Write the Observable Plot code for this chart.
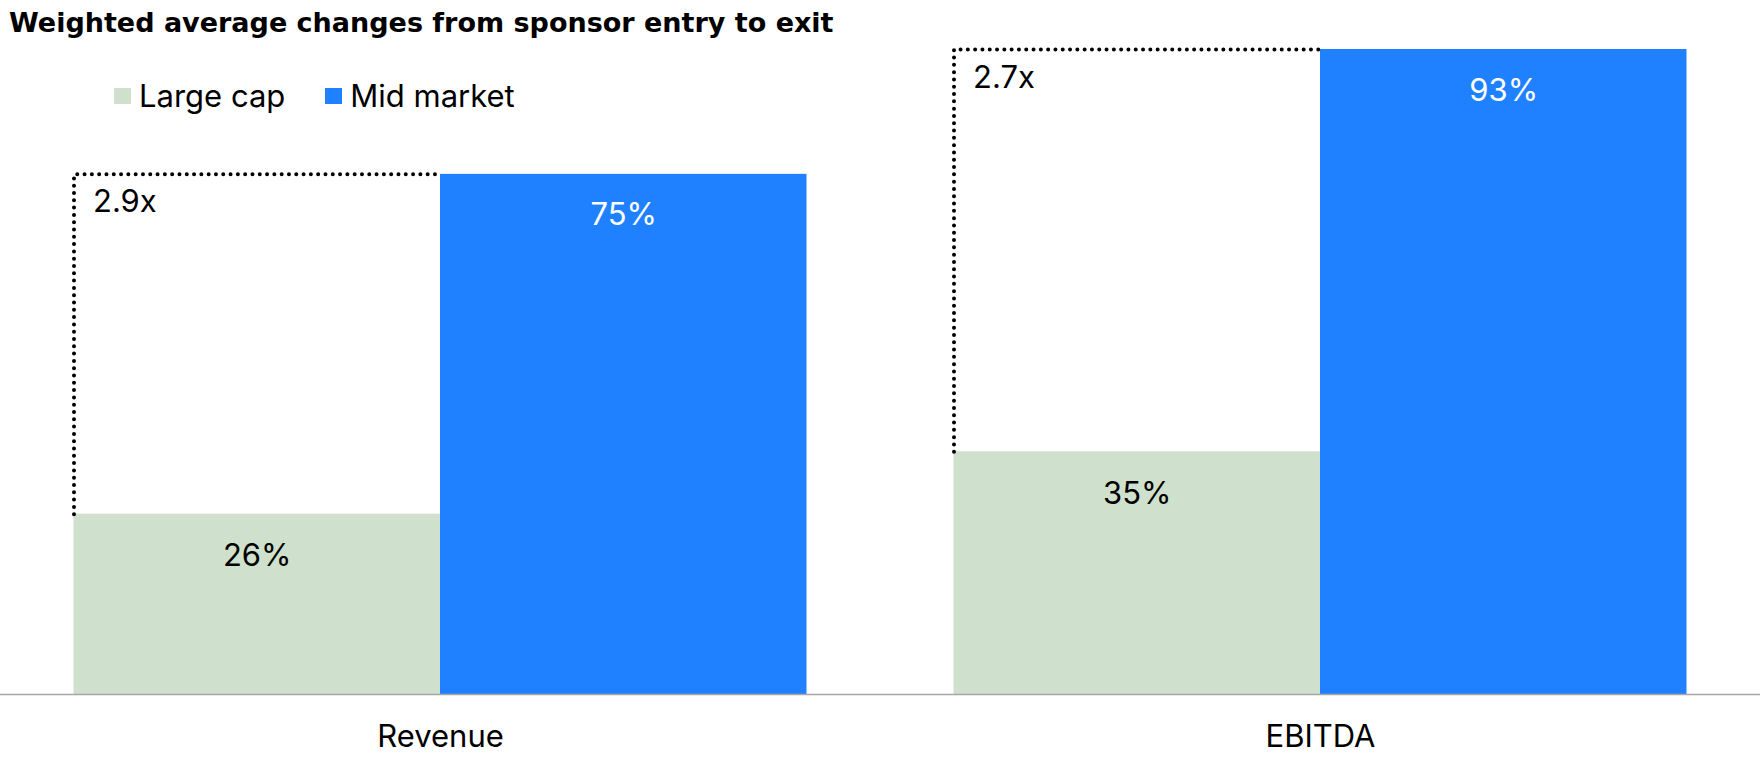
<!DOCTYPE html>
<html>
<head>
<meta charset="utf-8">
<script src="https://cdn.jsdelivr.net/npm/d3@7"></script>
<script src="https://cdn.jsdelivr.net/npm/@observablehq/plot@0.6"></script>
<style>
  html, body { margin: 0; padding: 0; background: #fff; }
  #wrap { position: relative; width: 1760px; height: 765px; overflow: hidden; font-family: Inter, "Noto Sans", sans-serif; }
  #title { position: relative; top: 3px; height: 40px; line-height: 40px; font-family: "DejaVu Sans", Inter, sans-serif; font-size: 27px; font-weight: 700; padding-left: 9px; color: #000; white-space: nowrap; }
  #chart svg { display: block; }
  #legend { position: absolute; left: 114px; top: 77px; display: flex; align-items: center; font-size: 31px; color: #000; }
  #legend .item { display: flex; align-items: center; margin-right: 40px; }
  #legend .sw { width: 17px; height: 16px; margin-right: 8px; }
</style>
</head>
<body>
<div id="wrap">
  <div id="title">Weighted average changes from sponsor entry to exit</div>
  <div id="chart"></div>
  <div id="legend"></div>
</div>
<script>
const categories = ["Revenue", "EBITDA"];
const series = ["Large cap", "Mid market"];
const largeCap = [26, 35];
const midMarket = [75, 93];
const multiples = ["2.9x", "2.7x"];
const colors = ["#cfe1cc", "#1f81ff"];
const labelColors = ["#000000", "#ffffff"];

const rows = [];
categories.forEach((c, ci) => {
  [largeCap[ci], midMarket[ci]].forEach((v, si) => {
    rows.push({category: c, series: series[si], idx: si, value: v});
  });
});

const outline = [];
categories.forEach((c, ci) => {
  outline.push({category: c, x: 0, y: largeCap[ci]});
  outline.push({category: c, x: 0, y: midMarket[ci]});
  outline.push({category: c, x: 1, y: midMarket[ci]});
});

const multRows = categories.map((c, ci) => ({category: c, y: midMarket[ci], text: multiples[ci]}));

const chart = Plot.plot({
  width: 1760,
  height: 725,
  marginTop: 9,
  marginBottom: 71,
  marginLeft: 0,
  marginRight: 0,
  style: {fontFamily: "Inter, 'Noto Sans', sans-serif", fontSize: "31px", color: "#000", background: "#fff", overflow: "visible"},
  fx: {domain: categories, paddingInner: 147 / 880, paddingOuter: 73.5 / 880, round: false, label: null},
  x: {domain: [0, 2], axis: null},
  y: {domain: [0, 93], axis: null},
  color: {domain: series, range: colors},
  marks: [
    Plot.rectY(rows, {fx: "category", x1: "idx", x2: d => d.idx + 1, y: "value", fill: "series"}),
    Plot.line(outline, {fx: "category", x: "x", y: "y", z: "category", stroke: "#000", strokeWidth: 4, strokeDasharray: "0 7.3", strokeLinecap: "round"}),
    Plot.ruleY([0], {stroke: "#a6a6a6", strokeWidth: 1.5, insetLeft: -73.5, insetRight: -73.5}),
    Plot.text(rows.filter(d => d.idx === 0), {fx: "category", x: d => d.idx + 0.5, y: "value", text: d => d.value + "%", fill: labelColors[0], lineAnchor: "top", dy: 30, fontSize: 31}),
    Plot.text(rows.filter(d => d.idx === 1), {fx: "category", x: d => d.idx + 0.5, y: "value", text: d => d.value + "%", fill: labelColors[1], lineAnchor: "top", dy: 29, fontSize: 31}),
    Plot.text(multRows, {fx: "category", x: () => 0, y: "y", text: "text", textAnchor: "start", dx: 19, lineAnchor: "top", dy: 16, fill: "#000", fontSize: 31}),
    Plot.axisFx({anchor: "bottom", tickSize: 0, tickPadding: 30, fontSize: 31, label: null, fill: "#000"})
  ]
});
document.getElementById("chart").appendChild(chart);

const legend = document.getElementById("legend");
series.forEach((s, i) => {
  const item = document.createElement("div");
  item.className = "item";
  const sw = document.createElement("span");
  sw.className = "sw";
  sw.style.background = colors[i];
  const lbl = document.createElement("span");
  lbl.textContent = s;
  item.appendChild(sw);
  item.appendChild(lbl);
  legend.appendChild(item);
});
</script>
</body>
</html>
